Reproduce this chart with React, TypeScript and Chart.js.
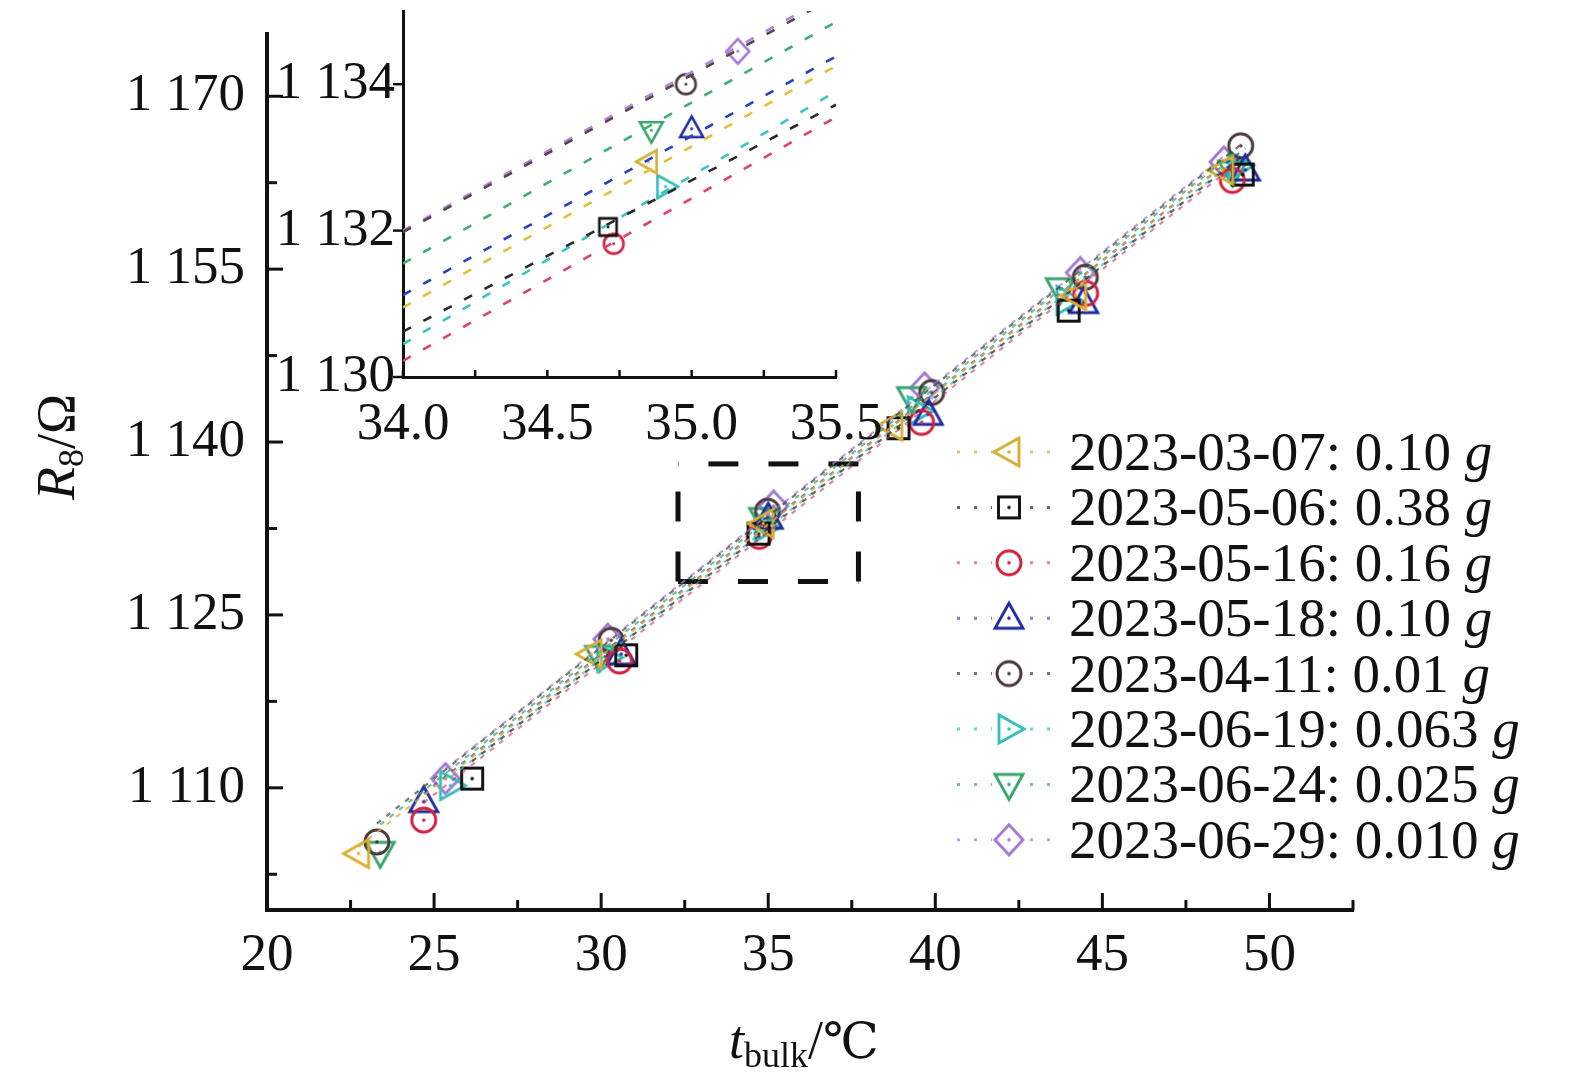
import { useEffect, useRef } from "react"
import { Chart, registerables } from "chart.js"

Chart.register(...registerables)

const SERIF = "'Liberation Serif', 'Times New Roman', serif"
const INK = "#111111"

// legend entries
const seriesDates = ["2023-03-07", "2023-05-06", "2023-05-16", "2023-05-18", "2023-04-11", "2023-06-19", "2023-06-24", "2023-06-29"]
const seriesMass = ["0.10", "0.38", "0.16", "0.10", "0.01", "0.063", "0.025", "0.010"]
const seriesShapes = ["left", "square", "circle", "up", "circle", "right", "down", "diamond"]

const markerColors = ["#d8ae35", "#111111", "#d3203f", "#1f2b9e", "#4a3a3c", "#33bfbb", "#36a66a", "#a479d4"]
const lineColors = [
  "rgba(216,174,53,0.75)",
  "rgba(40,40,40,0.7)",
  "rgba(211,32,63,0.55)",
  "rgba(31,43,158,0.6)",
  "rgba(74,58,60,0.7)",
  "rgba(51,191,187,0.7)",
  "rgba(54,166,106,0.7)",
  "rgba(164,121,212,0.7)",
]
const insetLineColors = ["#e3c03c", "#2a2a2a", "#e0406e", "#2a3fc4", "#5a4444", "#3cc4c0", "#3fae6e", "#b286e0"]

// bulk temperature (°C) and resistance R8 (Ω), one pair of arrays per date
const t_0307 = [22.74, 29.7, 34.85, 38.7, 44.2, 48.6]
const r_0307 = [1104.3, 1121.6, 1132.94, 1141.4, 1152.7, 1163.6]
const t_0506 = [26.14, 30.75, 34.71, 38.9, 43.99, 49.2]
const r_0506 = [1110.8, 1121.5, 1132.05, 1141.2, 1151.4, 1163.2]
const t_0516 = [24.69, 30.55, 34.73, 39.59, 44.5, 48.89]
const r_0516 = [1107.2, 1121.0, 1131.82, 1141.7, 1152.9, 1162.7]
const t_0518 = [24.69, 30.6, 35.0, 39.79, 44.44, 49.28]
const r_0518 = [1108.8, 1121.6, 1133.39, 1142.4, 1152.1, 1163.6]
const t_0411 = [23.29, 30.3, 34.98, 39.89, 44.49, 49.14]
const r_0411 = [1105.3, 1122.8, 1134.0, 1144.3, 1154.3, 1165.7]
const t_0619 = [25.49, 30.19, 34.91, 39.49, 43.94, 49.09]
const r_0619 = [1110.2, 1121.3, 1132.6, 1142.7, 1152.3, 1164.0]
const t_0624 = [23.39, 29.95, 34.86, 39.29, 43.74, 48.9]
const r_0624 = [1104.4, 1121.4, 1133.37, 1143.85, 1153.3, 1163.5]
const t_0629 = [25.34, 30.2, 35.16, 39.68, 44.34, 48.64]
const r_0629 = [1110.8, 1122.9, 1134.45, 1144.7, 1154.7, 1164.3]

const seriesT = [t_0307, t_0506, t_0516, t_0518, t_0411, t_0619, t_0624, t_0629]
const seriesR = [r_0307, r_0506, r_0516, r_0518, r_0411, r_0619, r_0624, r_0629]

// fitted straight line of each date, read at its first and last temperature
const fitStartR = [1104.9, 1112.3, 1108.7, 1109.5, 1106.9, 1110.9, 1106.8, 1111.65]
const fitEndR = [1163.9, 1164.85, 1163.85, 1165.5, 1165.8, 1164.7, 1165.0, 1164.8]

// inset: the point near 35 °C and the fitted line read at both ends of 34.0–35.5
const insetEnds = [34.0, 35.5]
const insetT = [34.85, 34.71, 34.73, 35.0, 34.98, 34.91, 34.86, 35.16]
const insetR = [1132.94, 1132.05, 1131.82, 1133.39, 1134.0, 1132.6, 1133.37, 1134.45]
const insetFitStart = [1130.95, 1130.62, 1130.22, 1131.12, 1131.98, 1130.45, 1131.55, 1132.0]
const insetFitEnd = [1134.25, 1133.72, 1133.55, 1134.38, 1135.2, 1133.9, 1134.85, 1135.25]

// axes
const xMajor = [20, 25, 30, 35, 40, 45, 50]
const xMinor = [22.5, 27.5, 32.5, 37.5, 42.5, 47.5, 52.5]
const yMajor = [1110, 1125, 1140, 1155, 1170]
const yMinor = [1102.5, 1117.5, 1132.5, 1147.5, 1162.5]
const insetXMajor = [34.0, 34.5, 35.0, 35.5]
const insetXMinor = [34.25, 34.75, 35.25]
const insetYMajor = [1130, 1132, 1134]

// dashed frame marking the zoomed region
const zoomBoxT = [32.3, 37.7]
const zoomBoxR = [1127.9, 1138.1]

function withSpace(v: number) {
  const s = String(v)
  return s.length === 4 ? s[0] + " " + s.slice(1) : s
}

function makeMarker(shape: string, color: string, k: number): HTMLCanvasElement {
  const size = Math.ceil(42 * k)
  const c = document.createElement("canvas")
  c.width = size
  c.height = size
  const g = c.getContext("2d")!
  const m = size / 2
  g.strokeStyle = color
  g.lineWidth = 2.9 * Math.max(k, 0.9)
  g.beginPath()
  switch (shape) {
    case "circle":
      g.arc(m, m, 12 * k, 0, Math.PI * 2)
      break
    case "square":
      g.rect(m - 10.5 * k, m - 10.5 * k, 21 * k, 21 * k)
      break
    case "up":
      g.moveTo(m, m - 15 * k)
      g.lineTo(m + 14 * k, m + 10 * k)
      g.lineTo(m - 14 * k, m + 10 * k)
      g.closePath()
      break
    case "down":
      g.moveTo(m, m + 15 * k)
      g.lineTo(m + 14 * k, m - 10 * k)
      g.lineTo(m - 14 * k, m - 10 * k)
      g.closePath()
      break
    case "left":
      g.moveTo(m - 15 * k, m)
      g.lineTo(m + 10 * k, m - 14 * k)
      g.lineTo(m + 10 * k, m + 14 * k)
      g.closePath()
      break
    case "right":
      g.moveTo(m + 15 * k, m)
      g.lineTo(m - 10 * k, m - 14 * k)
      g.lineTo(m - 10 * k, m + 14 * k)
      g.closePath()
      break
    case "diamond":
      g.moveTo(m, m - 15 * k)
      g.lineTo(m + 14 * k, m)
      g.lineTo(m, m + 15 * k)
      g.lineTo(m - 14 * k, m)
      g.closePath()
      break
  }
  g.stroke()
  g.fillStyle = color
  g.beginPath()
  g.arc(m, m, 1.8 * k, 0, Math.PI * 2)
  g.fill()
  return c
}

type Part = { text: string; size: number; italic?: boolean; dy?: number; family?: string }

function partFont(p: Part) {
  return `${p.italic ? "italic " : ""}${p.size}px ${p.family || SERIF}`
}

function drawRich(ctx: CanvasRenderingContext2D, parts: Part[], x: number, y: number) {
  let total = 0
  for (const p of parts) {
    ctx.font = partFont(p)
    total += ctx.measureText(p.text).width
  }
  let cx = x - total / 2
  for (const p of parts) {
    ctx.font = partFont(p)
    ctx.fillText(p.text, cx, y + (p.dy || 0))
    cx += ctx.measureText(p.text).width
  }
}

function seg(ctx: CanvasRenderingContext2D, x0: number, y0: number, x1: number, y1: number) {
  ctx.beginPath()
  ctx.moveTo(x0, y0)
  ctx.lineTo(x1, y1)
  ctx.stroke()
}

export default function App() {
  const mainRef = useRef<HTMLCanvasElement>(null)
  const insetRef = useRef<HTMLCanvasElement>(null)

  useEffect(() => {
    if (!mainRef.current || !insetRef.current) return

    const mainMarkers = seriesShapes.map((s, i) => makeMarker(s, markerColors[i], 1))
    const insetMarkers = seriesShapes.map((s, i) => makeMarker(s, markerColors[i], 0.82))

    const mainDecor = {
      id: "mainDecor",
      beforeDatasetsDraw(chart: any) {
        const { ctx, scales } = chart
        const { x, y } = scales
        const x0 = x.getPixelForValue(zoomBoxT[0])
        const x1 = x.getPixelForValue(zoomBoxT[1])
        const yt = y.getPixelForValue(zoomBoxR[1])
        const yb = y.getPixelForValue(zoomBoxR[0])
        ctx.save()
        ctx.strokeStyle = INK
        ctx.lineWidth = 5
        ctx.setLineDash([30, 30])
        seg(ctx, x0, yb, x0, yt)
        seg(ctx, x1, yt, x0, yt)
        seg(ctx, x1, yb, x1, yt)
        seg(ctx, x0, yb, x1, yb)
        ctx.restore()
      },
      afterDraw(chart: any) {
        const { ctx, chartArea: a, scales } = chart
        const { x, y } = scales
        ctx.save()
        // inward tick marks
        ctx.strokeStyle = INK
        ctx.lineWidth = 3
        for (const v of xMajor) seg(ctx, x.getPixelForValue(v), a.bottom, x.getPixelForValue(v), a.bottom - 17)
        for (const v of xMinor) seg(ctx, x.getPixelForValue(v), a.bottom, x.getPixelForValue(v), a.bottom - 10)
        for (const v of yMajor) seg(ctx, a.left, y.getPixelForValue(v), a.left + 16, y.getPixelForValue(v))
        for (const v of yMinor) seg(ctx, a.left, y.getPixelForValue(v), a.left + 10, y.getPixelForValue(v))

        // axis titles
        ctx.fillStyle = INK
        ctx.textBaseline = "alphabetic"
        drawRich(
          ctx,
          [
            { text: "t", size: 54, italic: true },
            { text: "bulk", size: 36, dy: 9 },
            { text: "/", size: 54 },
            { text: "℃", size: 50, family: "'DejaVu Serif', 'Liberation Serif', serif" },
          ],
          (a.left + a.right) / 2 - 6,
          1058
        )
        ctx.save()
        ctx.translate(74, 447)
        ctx.rotate(-Math.PI / 2)
        drawRich(
          ctx,
          [
            { text: "R", size: 54, italic: true },
            { text: "8", size: 36, dy: 9 },
            { text: "/Ω", size: 54 },
          ],
          0,
          0
        )
        ctx.restore()

        // legend
        seriesDates.forEach((d, i) => {
          const ry = 452 + i * 55.4
          ctx.save()
          ctx.strokeStyle = lineColors[i]
          ctx.lineWidth = 3
          ctx.setLineDash([3, 14])
          seg(ctx, 957, ry, 992, ry)
          seg(ctx, 1030, ry, 1056, ry)
          ctx.restore()
          const mk = mainMarkers[i]
          ctx.drawImage(mk, 1009 - mk.width / 2, ry - mk.height / 2)
          ctx.font = `55px ${SERIF}`
          const main = `${d}: ${seriesMass[i]} `
          ctx.fillText(main, 1069, ry + 18)
          const w = ctx.measureText(main).width
          ctx.font = `italic 55px ${SERIF}`
          ctx.fillText("g", 1069 + w, ry + 18)
        })
        ctx.restore()
      },
    }

    const fitSets = seriesT.map((ts, i) => ({
      data: [
        { x: ts[0], y: fitStartR[i] },
        { x: ts[ts.length - 1], y: fitEndR[i] },
      ],
      showLine: true,
      borderColor: lineColors[i],
      borderWidth: 2.2,
      borderDash: [5, 7],
      pointRadius: 0,
    }))

    const pointSets = seriesT.map((ts, i) => ({
      label: seriesDates[i],
      data: ts.map((t, j) => ({ x: t, y: seriesR[i][j] })),
      showLine: false,
      pointStyle: mainMarkers[i],
      pointRadius: 12,
      pointHoverRadius: 12,
    }))

    const mainChart = new Chart(mainRef.current, {
      type: "scatter",
      data: { datasets: [...fitSets, ...pointSets] },
      options: {
        responsive: false,
        animation: false,
        events: [],
        layout: { padding: { top: 34, right: 222, left: 0, bottom: 0 } },
        plugins: { legend: { display: false }, tooltip: { enabled: false } },
        scales: {
          x: {
            type: "linear",
            min: 20,
            max: 52.5,
            afterBuildTicks: (s: any) => {
              s.ticks = [...xMajor, ...xMinor].sort((p, q) => p - q).map((v) => ({ value: v }))
            },
            afterFit: (s: any) => {
              s.height = 176
            },
            grid: { display: false, drawTicks: false },
            border: { display: true, width: 4, color: INK },
            ticks: {
              autoSkip: false,
              maxRotation: 0,
              padding: 14,
              color: INK,
              font: { family: SERIF, size: 53 },
              callback: (v: any) => (xMajor.includes(Number(v)) ? String(v) : ""),
            },
          },
          y: {
            type: "linear",
            min: 1099.4,
            max: 1175.4,
            afterBuildTicks: (s: any) => {
              s.ticks = [...yMajor, ...yMinor].sort((p, q) => p - q).map((v) => ({ value: v }))
            },
            afterFit: (s: any) => {
              s.width = 267
            },
            grid: { display: false, drawTicks: false },
            border: { display: true, width: 4, color: INK },
            ticks: {
              autoSkip: false,
              padding: 22,
              color: INK,
              font: { family: SERIF, size: 53, lineHeight: 0.01 },
              callback: (v: any) => (yMajor.includes(Number(v)) ? withSpace(Number(v)) : ""),
            },
          },
        },
      },
      plugins: [mainDecor],
    })

    const insetDecor = {
      id: "insetDecor",
      afterDraw(chart: any) {
        const { ctx, chartArea: a, scales } = chart
        const { x, y } = scales
        ctx.save()
        ctx.strokeStyle = INK
        ctx.lineWidth = 2.5
        for (const v of [...insetXMajor, ...insetXMinor]) {
          const px = x.getPixelForValue(v)
          seg(ctx, px, a.bottom, px, a.bottom - 7)
        }
        for (const v of insetYMajor) {
          const py = y.getPixelForValue(v)
          seg(ctx, a.left, py, a.left - 10, py)
        }
        ctx.restore()
      },
    }

    const insetChart = new Chart(insetRef.current, {
      type: "scatter",
      data: {
        datasets: [
          ...insetFitStart.map((r0, i) => ({
            data: [
              { x: insetEnds[0], y: r0 },
              { x: insetEnds[1], y: insetFitEnd[i] },
            ],
            showLine: true,
            borderColor: insetLineColors[i],
            borderWidth: 2.6,
            borderDash: [9, 14],
            pointRadius: 0,
          })),
          ...insetT.map((t, i) => ({
            data: [{ x: t, y: insetR[i] }],
            showLine: false,
            pointStyle: insetMarkers[i],
            pointRadius: 10,
            pointHoverRadius: 10,
          })),
        ],
      },
      options: {
        responsive: false,
        animation: false,
        events: [],
        layout: { padding: { top: 10, right: 64, left: 0, bottom: 0 } },
        plugins: { legend: { display: false }, tooltip: { enabled: false } },
        scales: {
          x: {
            type: "linear",
            min: 34,
            max: 35.5,
            afterBuildTicks: (s: any) => {
              s.ticks = [...insetXMajor, ...insetXMinor].sort((p, q) => p - q).map((v) => ({ value: v }))
            },
            afterFit: (s: any) => {
              s.height = 93
            },
            grid: { display: false, drawTicks: false },
            border: { display: true, width: 3, color: INK },
            ticks: {
              autoSkip: false,
              maxRotation: 0,
              padding: 16,
              color: INK,
              font: { family: SERIF, size: 53 },
              callback: (v: any) => (insetXMajor.includes(Number(v)) ? Number(v).toFixed(1) : ""),
            },
          },
          y: {
            type: "linear",
            min: 1130,
            max: 1135,
            afterBuildTicks: (s: any) => {
              s.ticks = insetYMajor.map((v) => ({ value: v }))
            },
            afterFit: (s: any) => {
              s.width = 143
            },
            grid: { display: false, drawTicks: false },
            border: { display: true, width: 3, color: INK },
            ticks: {
              autoSkip: false,
              padding: 8,
              color: INK,
              font: { family: SERIF, size: 53, lineHeight: 0.01 },
              callback: (v: any) => withSpace(Number(v)),
            },
          },
        },
      },
      plugins: [insetDecor],
    })

    return () => {
      mainChart.destroy()
      insetChart.destroy()
    }
  }, [])

  return (
    <div style={{ position: "absolute", left: 0, top: 0, width: 1575, height: 1086, background: "#fff" }}>
      <canvas ref={mainRef} width={1575} height={1086} style={{ position: "absolute", left: 0, top: 0 }} />
      <canvas ref={insetRef} width={640} height={470} style={{ position: "absolute", left: 260, top: 0 }} />
    </div>
  )
}
